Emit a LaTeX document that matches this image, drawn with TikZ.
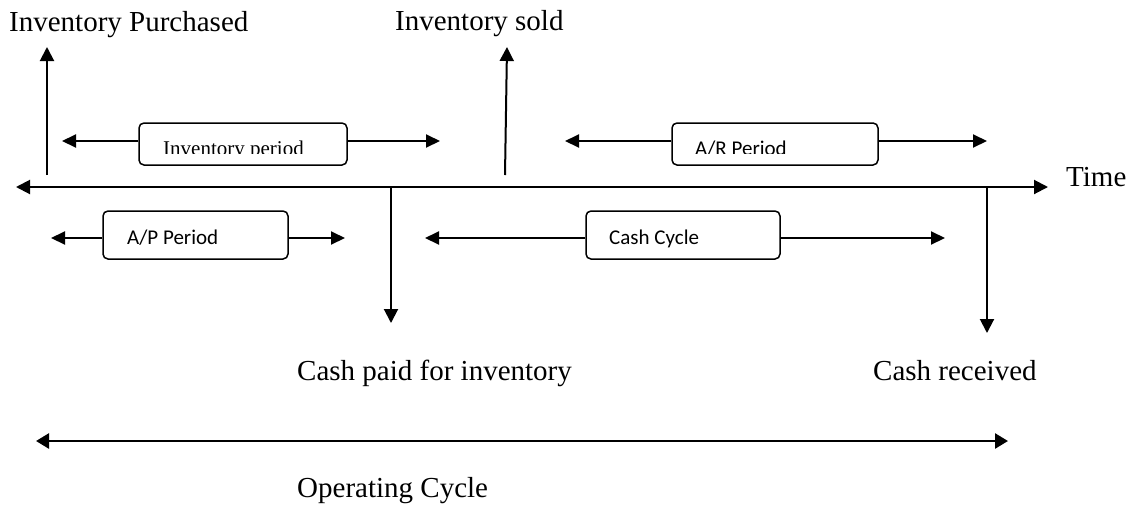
\documentclass[tikz,border=0pt]{standalone}
\usepackage{fontspec}
\setmainfont{Liberation Serif}
\newfontfamily\boxfont{Carlito}
\usetikzlibrary{arrows.meta}
\begin{document}
\begin{tikzpicture}[x=1pt,y=-1pt,
  lbl/.style={anchor=base west,inner sep=0pt,font=\fontsize{29}{30}\selectfont},
  boxlbl/.style={anchor=base west,inner sep=0pt,font=\boxfont\fontsize{21}{22}\selectfont},
  servlbl/.style={anchor=base west,inner sep=0pt,font=\fontsize{21}{22}\selectfont},
  pbox/.style={draw,line width=1.5pt,rounded corners=5pt,inner sep=0pt},
  arr/.style={line width=2pt,-{Triangle[length=14pt,width=14pt]}},
  barr/.style={line width=2pt,-{Triangle[length=14pt,width=13pt]}},
  opar/.style={line width=2.6pt,{Triangle[length=13pt,width=15pt]}-{Triangle[length=13pt,width=15pt]}},
  axar/.style={line width=2pt,{Triangle[length=14pt,width=14pt]}-{Triangle[length=14pt,width=14pt]}}]
\useasboundingbox (0,0) rectangle (1135,504);

% texts
\node[lbl] (purch) at (9,31) {Inventory Purchased};
\node[lbl] (sold) at (395,30) {Inventory sold};
\node[lbl] (time) at (1066,186) {Time};
\node[lbl] (paid) at (297,380) {Cash paid for inventory};
\node[lbl] (recv) at (873,380) {Cash received};
\node[lbl] (opc) at (297,497) {Operating Cycle};

% time axis
\coordinate (axL) at (16,187);
\coordinate (axR) at (1048,187);
\draw[axar] (axL) -- (axR);

% up arrows
\coordinate (up1b) at (47,175);
\coordinate (up1t) at (47,47);
\draw[arr] (up1b) -- (up1t);
\coordinate (up2b) at (505,175);
\coordinate (up2t) at (507,47);
\draw[arr] (up2b) -- (up2t);

% down arrows
\coordinate (dn1t) at (391,187);
\coordinate (dn1b) at (391,323);
\draw[arr] (dn1t) -- (dn1b);
\coordinate (dn2t) at (987,187);
\coordinate (dn2b) at (987,333);
\draw[arr] (dn2t) -- (dn2b);

% inventory period
\node[pbox,minimum width=208pt,minimum height=42pt] (invbox) at (243,144) {};
\begin{scope}
\clip (140,124) rectangle (346,153.5);
\node[servlbl] (invtxt) at (163,155) {Inventory period};
\end{scope}
\coordinate (invL) at (62,141);
\coordinate (invR) at (440,141);
\draw[barr] (invbox.west |- invL) -- (invL);
\draw[barr] (invbox.east |- invR) -- (invR);

% A/R period
\node[pbox,minimum width=206pt,minimum height=42pt] (arbox) at (775,144) {};
\begin{scope}
\clip (673,124) rectangle (877,153.5);
\node[boxlbl] (artxt) at (695,155.5) {A/R Period};
\end{scope}
\coordinate (arL) at (565,141);
\coordinate (arR) at (987,141);
\draw[barr] (arbox.west |- arL) -- (arL);
\draw[barr] (arbox.east |- arR) -- (arR);

% A/P period
\node[pbox,minimum width=185pt,minimum height=48pt] (apbox) at (195.5,235) {};
\node[boxlbl] (aptxt) at (127,244) {A/P Period};
\coordinate (apL) at (51,238);
\coordinate (apR) at (345,238);
\draw[barr] (apbox.west |- apL) -- (apL);
\draw[barr] (apbox.east |- apR) -- (apR);

% Cash cycle
\node[pbox,minimum width=194pt,minimum height=48pt] (ccbox) at (683,235) {};
\node[boxlbl] (cctxt) at (609,244) {Cash Cycle};
\coordinate (ccL) at (425,238);
\coordinate (ccR) at (945,238);
\draw[barr] (ccbox.west |- ccL) -- (ccL);
\draw[barr] (ccbox.east |- ccR) -- (ccR);

% operating cycle
\coordinate (opL) at (36,441);
\coordinate (opR) at (1008,441);
\draw[opar] (opL) -- (opR);
\end{tikzpicture}
\end{document}
